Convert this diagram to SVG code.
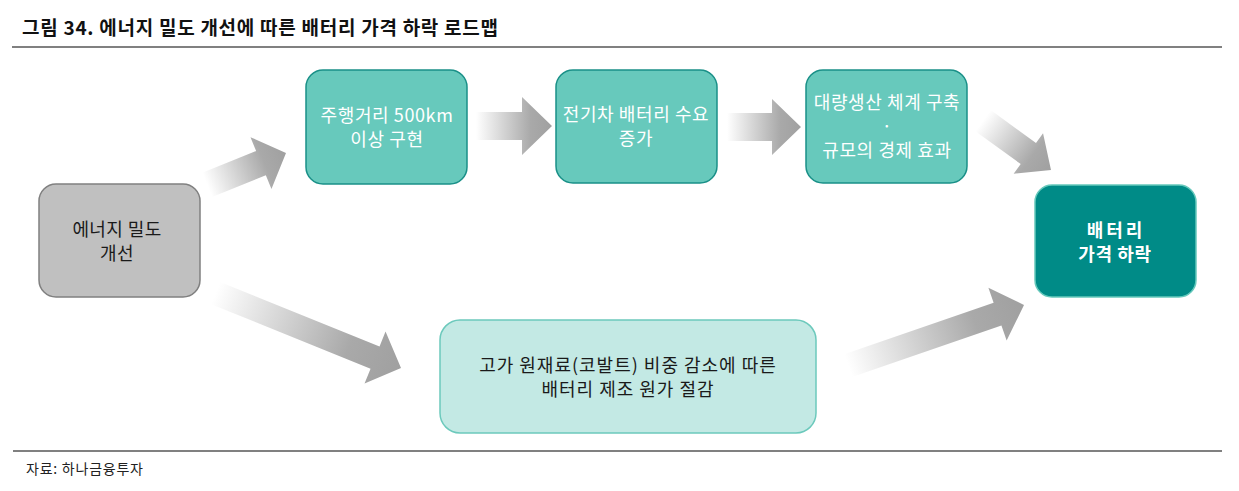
<svg xmlns="http://www.w3.org/2000/svg" width="1239" height="491" viewBox="0 0 1239 491">
<style>
text{font-family:"Noto Sans CJK KR","Noto Sans",sans-serif;}
.title{font-size:19px;font-weight:bold;fill:#111;}
.src{font-size:14px;fill:#222;}
.rule{stroke:#808080;stroke-width:2;}
.teal rect{fill:#67c9bc;stroke:#1a9088;stroke-width:1.5;}
.teal text{fill:#ffffff;font-size:18px;text-anchor:middle;letter-spacing:0.6px;}
.gray rect{fill:#c0c0c0;stroke:#808080;stroke-width:1.5;}
.gray text{fill:#1a1a1a;font-size:18px;text-anchor:middle;letter-spacing:0.4px;}
.dark rect{fill:#008b87;stroke:#66c9bc;stroke-width:1.5;}
.dark text{fill:#ffffff;font-size:18px;font-weight:bold;text-anchor:middle;letter-spacing:0.6px;}
.dark text.wide{letter-spacing:3px;}
.light rect{fill:#c3e9e4;stroke:#6cc9bc;stroke-width:1.5;}
.light text{fill:#1a1a1a;font-size:18px;text-anchor:middle;letter-spacing:1px;}
.arrow{fill:url(#ag);}
</style>
<defs>
<linearGradient id="ag" x1="0" y1="0" x2="1" y2="0">
<stop offset="0" stop-color="#ffffff"/>
<stop offset="0.72" stop-color="#a9a9a9"/>
<stop offset="1" stop-color="#a0a0a0"/>
</linearGradient>
</defs>
<rect width="1239" height="491" fill="#ffffff"/>
<text class="title" x="22" y="35" textLength="476" lengthAdjust="spacing">그림 34. 에너지 밀도 개선에 따른 배터리 가격 하락 로드맵</text>
<line class="rule" x1="12" y1="47" x2="1222" y2="47"/>
<line class="rule" x1="13" y1="451" x2="1222" y2="451"/>
<text class="src" x="26" y="474" textLength="117" lengthAdjust="spacing">자료: 하나금융투자</text>

<g id="connectors">
<polygon class="arrow" transform="translate(286,153) rotate(-22)" points="-85,-13 -27,-13 -27,-28 0,0 -27,28 -27,13 -85,13"/>
<polygon class="arrow" transform="translate(552,126)" points="-76,-14 -30,-14 -30,-29 0,0 -30,29 -30,14 -76,14"/>
<polygon class="arrow" transform="translate(801,127)" points="-74,-14 -29,-14 -29,-28 0,0 -29,28 -29,14 -74,14"/>
<polygon class="arrow" transform="translate(1051,170) rotate(36)" points="-84,-13 -28,-13 -28,-25 0,0 -28,25 -28,13 -84,13"/>
<polygon class="arrow" transform="translate(401,368) rotate(22)" points="-200,-12 -28,-12 -28,-28 0,0 -28,28 -28,12 -200,12"/>
<polygon class="arrow" transform="translate(1024,305) rotate(-19)" points="-186,-12 -28,-12 -28,-28 0,0 -28,28 -28,12 -186,12"/>
</g>

<g id="node-energy" class="gray">
<rect x="39" y="184" width="161" height="113" rx="17"/>
<text x="117" y="236">에너지 밀도</text>
<text x="117" y="260">개선</text>
</g>
<g id="node-range" class="teal">
<rect x="306" y="70" width="161" height="114" rx="17"/>
<text x="387" y="122">주행거리 500km</text>
<text x="387" y="146">이상 구현</text>
</g>
<g id="node-demand" class="teal">
<rect x="556" y="70" width="161" height="113" rx="17"/>
<text x="636" y="121">전기차 배터리 수요</text>
<text x="636" y="145">증가</text>
</g>
<g id="node-mass" class="teal">
<rect x="806" y="70" width="161" height="113" rx="17"/>
<text x="887" y="109">대량생산 체계 구축</text>
<text x="887" y="133">·</text>
<text x="887" y="157">규모의 경제 효과</text>
</g>
<g id="node-price" class="dark">
<rect x="1035" y="185" width="161" height="112" rx="17"/>
<text class="wide" x="1116" y="237">배터리</text>
<text x="1115" y="261">가격 하락</text>
</g>
<g id="node-cost" class="light">
<rect x="440" y="320" width="376" height="113" rx="20"/>
<text x="628" y="372">고가 원재료(코발트) 비중 감소에 따른</text>
<text x="628" y="396">배터리 제조 원가 절감</text>
</g>
</svg>
